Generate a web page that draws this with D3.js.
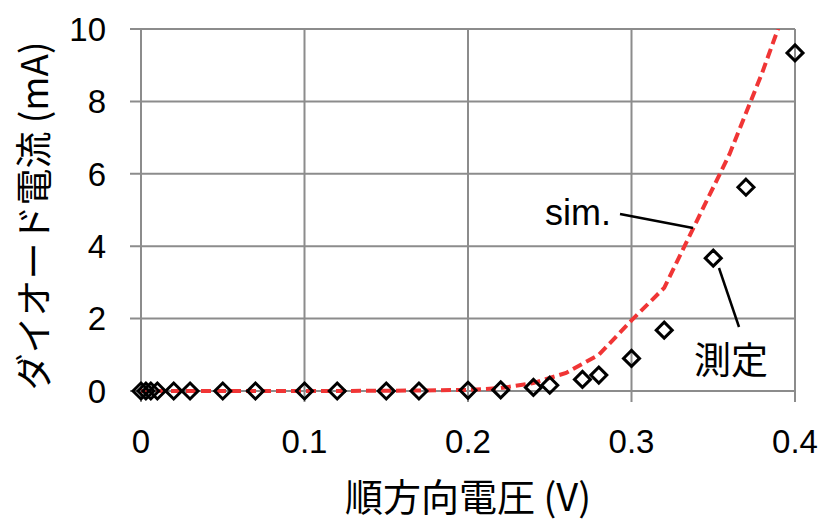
<!DOCTYPE html>
<html><head><meta charset="utf-8">
<script src="https://cdn.jsdelivr.net/npm/d3@7"></script>
<style>
html,body{margin:0;padding:0;background:#fff;}
svg{display:block;}
</style></head>
<body>
<svg id="chart" width="826" height="522"></svg>
<script>
// ---- data ----
const measVoltage = [0, 0.003, 0.006, 0.01, 0.02, 0.03, 0.05, 0.07, 0.10, 0.12, 0.15, 0.17, 0.20, 0.22, 0.24, 0.25, 0.27, 0.28, 0.30, 0.32, 0.35, 0.37, 0.40];
const measCurrent = [0, 0, 0, 0, 0, 0, 0, 0, 0, 0, 0, 0, 0.02, 0.03, 0.10, 0.16, 0.32, 0.44, 0.90, 1.68, 3.67, 5.63, 9.34];
const simVoltage = [0, 0.05, 0.10, 0.15, 0.20, 0.22, 0.24, 0.26, 0.28, 0.30, 0.32, 0.34, 0.36, 0.38, 0.40];
const simCurrent = [0, 0, 0, 0.005, 0.03, 0.08, 0.22, 0.50, 1.00, 1.95, 2.85, 4.70, 6.55, 8.80, 11.3];
const xTicks = [0, 0.1, 0.2, 0.3, 0.4];
const xTickLabels = ["0", "0.1", "0.2", "0.3", "0.4"];
const yTicks = [0, 2, 4, 6, 8, 10];
const yTickLabels = ["0", "2", "4", "6", "8", "10"];
const xTitle = "順方向電圧 (V)";
const yTitle = "ダイオード電流 (mA)";
const simLabel = "sim.";
const measLabel = "測定";

// ---- layout ----
const svg = d3.select("#chart");
const m = {left: 141, top: 29, right: 795, bottom: 391};
const x = d3.scaleLinear().domain([0, 0.4]).range([m.left, m.right]);
const y = d3.scaleLinear().domain([0, 10]).range([m.bottom, m.top]);
const grid = "#8c8c8c";
const numFont = "'Liberation Sans', Arial, sans-serif";
const cjkFont = "'Noto Sans CJK JP', 'Liberation Sans', sans-serif";

// gridlines
svg.append("g").selectAll("line").data(yTicks).join("line")
  .attr("x1", m.left - 11).attr("x2", m.right)
  .attr("y1", d => y(d)).attr("y2", d => y(d))
  .attr("stroke", grid).attr("stroke-width", 2);
svg.append("g").selectAll("line").data(xTicks).join("line")
  .attr("x1", d => x(d)).attr("x2", d => x(d))
  .attr("y1", m.top).attr("y2", m.bottom + 11)
  .attr("stroke", grid).attr("stroke-width", 2);

// tick labels
svg.append("g").selectAll("text").data(yTicks).join("text")
  .attr("x", 106).attr("y", d => y(d)).attr("dy", "0.36em")
  .attr("text-anchor", "end").attr("font-family", numFont).attr("font-size", 33)
  .attr("fill", "#000").text((d, i) => yTickLabels[i]);
svg.append("g").selectAll("text").data(xTicks).join("text")
  .attr("x", d => x(d)).attr("y", 453)
  .attr("text-anchor", "middle").attr("font-family", numFont).attr("font-size", 33)
  .attr("fill", "#000").text((d, i) => xTickLabels[i]);

// axis titles
svg.append("text").attr("x", 468).attr("y", 511).attr("text-anchor", "middle")
  .attr("font-family", cjkFont).attr("font-size", 38).attr("fill", "#000").text(xTitle);
svg.append("text").attr("transform", "translate(48,216) rotate(-90)").attr("text-anchor", "middle")
  .attr("font-family", cjkFont).attr("font-size", 37).attr("fill", "#000").text(yTitle);

// clip
svg.append("clipPath").attr("id", "plotclip").append("rect")
  .attr("x", m.left - 10).attr("y", m.top).attr("width", m.right - m.left + 20).attr("height", m.bottom - m.top + 10);

// sim line
const simData = simVoltage.map((v, i) => [v, simCurrent[i]]);
svg.append("path").datum(simData)
  .attr("clip-path", "url(#plotclip)")
  .attr("d", d3.line().x(d => x(d[0])).y(d => y(d[1])))
  .attr("fill", "none").attr("stroke", "#f03535").attr("stroke-width", 4)
  .attr("stroke-dasharray", "10,5");

// measured diamonds
const measData = measVoltage.map((v, i) => [v, measCurrent[i]]);
const r = 8;
svg.append("g").selectAll("path").data(measData).join("path")
  .attr("d", d => `M${x(d[0])},${y(d[1]) - r}L${x(d[0]) + r},${y(d[1])}L${x(d[0])},${y(d[1]) + r}L${x(d[0]) - r},${y(d[1])}Z`)
  .attr("fill", "none").attr("stroke", "#000").attr("stroke-width", 3);

// annotations
svg.append("line").attr("x1", 620).attr("y1", 214).attr("x2", 693).attr("y2", 228)
  .attr("stroke", "#000").attr("stroke-width", 2.5);
svg.append("line").attr("x1", 719).attr("y1", 268).attr("x2", 739).attr("y2", 327)
  .attr("stroke", "#000").attr("stroke-width", 2.5);
svg.append("text").attr("x", 545).attr("y", 225).attr("font-family", numFont).attr("font-size", 36)
  .attr("fill", "#000").text(simLabel);
svg.append("text").attr("x", 694).attr("y", 374).attr("font-family", cjkFont).attr("font-size", 37)
  .attr("fill", "#000").text(measLabel);
</script>
</body></html>
